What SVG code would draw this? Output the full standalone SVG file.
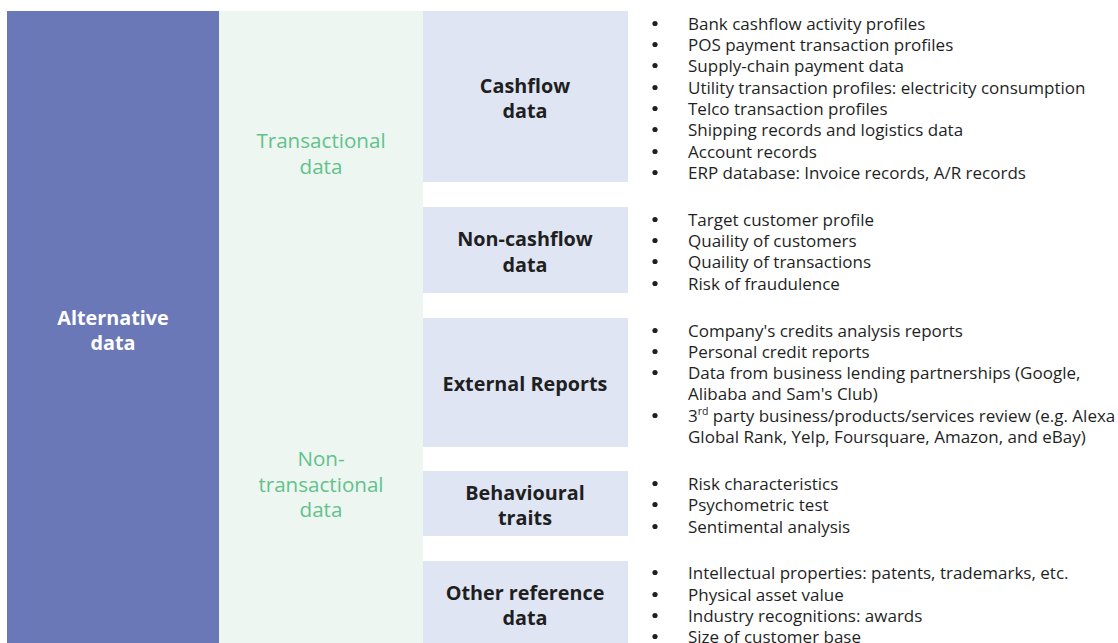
<svg xmlns="http://www.w3.org/2000/svg" width="1118" height="643" viewBox="0 0 1118 643">
<style>
.cat{fill:#dfe5f3}
.lbl{font-family:"Open Sans","Liberation Sans",sans-serif;font-weight:bold;font-size:19.8px;fill:#1f1f1f;text-anchor:middle}
.grn{font-family:"Open Sans","Liberation Sans",sans-serif;font-size:20.6px;fill:#62c28c;text-anchor:middle}
.itm{font-family:"Open Sans","Liberation Sans",sans-serif;font-size:17px;fill:#1f1f1f}
.bul{fill:#1f1f1f}
</style>
<rect width="1118" height="643" fill="#ffffff"/>
<g id="alternative">
<rect x="7" y="11" width="212" height="632" fill="#6b78b8"/>
<text class="lbl" x="113" y="325" style="fill:#ffffff">Alternative</text>
<text class="lbl" x="113" y="350" style="fill:#ffffff">data</text>
</g>
<g id="middle">
<rect x="219" y="11" width="204" height="632" fill="#edf6f0"/>
</g>
<g id="transactional">
<text class="grn" x="321" y="148">Transactional</text>
<text class="grn" x="321" y="174">data</text>
</g>
<g id="nontransactional">
<text class="grn" x="321" y="466">Non-</text>
<text class="grn" x="321" y="491.5">transactional</text>
<text class="grn" x="321" y="517">data</text>
</g>
<g id="connectors"></g>
<g id="cashflow">
<rect class="cat" x="423" y="11" width="205" height="171"/>
<text class="lbl" x="525" y="93">Cashflow</text>
<text class="lbl" x="525" y="118">data</text>
<g class="bul"><circle cx="655" cy="23.5" r="2.6"/><circle cx="655" cy="44.5" r="2.6"/><circle cx="655" cy="65.5" r="2.6"/><circle cx="655" cy="87.5" r="2.6"/><circle cx="655" cy="108.5" r="2.6"/><circle cx="655" cy="129.5" r="2.6"/><circle cx="655" cy="151.5" r="2.6"/><circle cx="655" cy="172.5" r="2.6"/></g>
<text class="itm" x="688" y="29.5">Bank cashflow activity profiles</text>
<text class="itm" x="688" y="50.5">POS payment transaction profiles</text>
<text class="itm" x="688" y="71.5">Supply-chain payment data</text>
<text class="itm" x="688" y="93.5">Utility transaction profiles: electricity consumption</text>
<text class="itm" x="688" y="114.5">Telco transaction profiles</text>
<text class="itm" x="688" y="135.5">Shipping records and logistics data</text>
<text class="itm" x="688" y="157.5">Account records</text>
<text class="itm" x="688" y="178.5">ERP database: Invoice records, A/R records</text>
</g>
<g id="noncashflow">
<rect class="cat" x="423" y="207" width="205" height="86"/>
<text class="lbl" x="525" y="246">Non-cashflow</text>
<text class="lbl" x="525" y="272">data</text>
<g class="bul"><circle cx="655" cy="219.5" r="2.6"/><circle cx="655" cy="240.5" r="2.6"/><circle cx="655" cy="261.5" r="2.6"/><circle cx="655" cy="283.5" r="2.6"/></g>
<text class="itm" x="688" y="225.5">Target customer profile</text>
<text class="itm" x="688" y="246.5">Quaility of customers</text>
<text class="itm" x="688" y="267.5">Quaility of transactions</text>
<text class="itm" x="688" y="289.5">Risk of fraudulence</text>
</g>
<g id="external">
<rect class="cat" x="423" y="318" width="205" height="129"/>
<text class="lbl" x="525" y="391">External Reports</text>
<g class="bul"><circle cx="655" cy="330.5" r="2.6"/><circle cx="655" cy="351.5" r="2.6"/><circle cx="655" cy="372.5" r="2.6"/><circle cx="655" cy="415.5" r="2.6"/></g>
<text class="itm" x="688" y="336.5">Company's credits analysis reports</text>
<text class="itm" x="688" y="357.5">Personal credit reports</text>
<text class="itm" x="688" y="378.5">Data from business lending partnerships (Google,</text>
<text class="itm" x="688" y="399.5">Alibaba and Sam's Club)</text>
<text class="itm" x="688" y="421.5">3<tspan font-size="10.5" dy="-6.5">rd</tspan><tspan dy="6.5"> party business/products/services review (e.g. Alexa</tspan></text>
<text class="itm" x="688" y="442.5">Global Rank, Yelp, Foursquare, Amazon, and eBay)</text>
</g>
<g id="behavioural">
<rect class="cat" x="423" y="471" width="205" height="65"/>
<text class="lbl" x="525" y="500">Behavioural</text>
<text class="lbl" x="525" y="525">traits</text>
<g class="bul"><circle cx="655" cy="483.5" r="2.6"/><circle cx="655" cy="504.5" r="2.6"/><circle cx="655" cy="526.5" r="2.6"/></g>
<text class="itm" x="688" y="489.5">Risk characteristics</text>
<text class="itm" x="688" y="510.5">Psychometric test</text>
<text class="itm" x="688" y="532.5">Sentimental analysis</text>
</g>
<g id="other">
<rect class="cat" x="423" y="561" width="205" height="82"/>
<text class="lbl" x="525" y="600">Other reference</text>
<text class="lbl" x="525" y="625">data</text>
<g class="bul"><circle cx="655" cy="572.5" r="2.6"/><circle cx="655" cy="594.5" r="2.6"/><circle cx="655" cy="615.5" r="2.6"/><circle cx="655" cy="636.5" r="2.6"/></g>
<text class="itm" x="688" y="578.5">Intellectual properties: patents, trademarks, etc.</text>
<text class="itm" x="688" y="600.5">Physical asset value</text>
<text class="itm" x="688" y="621.5">Industry recognitions: awards</text>
<text class="itm" x="688" y="642.5">Size of customer base</text>
</g>
</svg>
